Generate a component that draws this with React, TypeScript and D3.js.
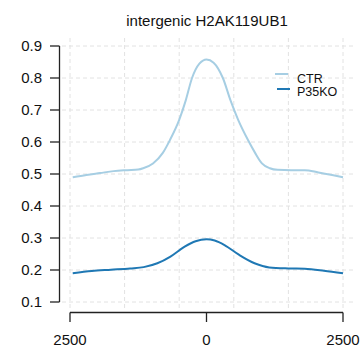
import React from "react";
import * as d3 from "d3";

const title = "intergenic H2AK119UB1";
const seriesNames = ["CTR", "P35KO"];
const seriesColors = ["#a6cee3", "#1f78b4"];

const ctrX = [-2450, -2200, -1950, -1700, -1450, -1250, -1160, -980, -800, -670, -500, -380, -265, -130, 0, 130, 300, 440, 580, 760, 890, 1015, 1160, 1300, 1550, 1800, 2050, 2300, 2500];
const ctrY = [0.490, 0.497, 0.503, 0.509, 0.512, 0.514, 0.518, 0.533, 0.566, 0.606, 0.669, 0.730, 0.800, 0.845, 0.858, 0.848, 0.800, 0.730, 0.669, 0.606, 0.566, 0.533, 0.518, 0.513, 0.512, 0.512, 0.505, 0.497, 0.490];

const koX = [-2450, -2100, -1750, -1400, -1150, -900, -660, -400, -200, 0, 150, 330, 600, 880, 1150, 1500, 1800, 2150, 2500];
const koY = [0.190, 0.197, 0.201, 0.205, 0.209, 0.221, 0.242, 0.273, 0.290, 0.296, 0.292, 0.278, 0.247, 0.221, 0.208, 0.205, 0.204, 0.198, 0.190];

const yTicks = [0.1, 0.2, 0.3, 0.4, 0.5, 0.6, 0.7, 0.8, 0.9];
const xTicks = [-2500, 0, 2500];
const xTickLabels = ["2500", "0", "2500"];
const xGrid = [-2500, -1500, -500, 500, 1500, 2500];

export default function App() {
  const W = 363, H = 350;
  const x = d3.scaleLinear().domain([-2500, 2500]).range([70, 343]);
  const y = d3.scaleLinear().domain([0.1, 0.9]).range([302, 46]);
  const line = d3.line<[number, number]>().x(d => x(d[0])).y(d => y(d[1])).curve(d3.curveMonotoneX);
  const ctr = ctrX.map((v, i) => [v, ctrY[i]] as [number, number]);
  const ko = koX.map((v, i) => [v, koY[i]] as [number, number]);
  const font = "'Liberation Sans', Arial, Helvetica, sans-serif";
  return (
    <svg width={W} height={H} style={{ position: "absolute", left: 0, top: 0 }} fontFamily={font}>
      <rect width={W} height={H} fill="#fff" />
      {yTicks.map(t => (
        <line key={"hg" + t} x1={62} x2={354} y1={y(t)} y2={y(t)} stroke="#e2e2e2" strokeWidth={1} strokeDasharray="4,3" />
      ))}
      {xGrid.map(t => (
        <line key={"vg" + t} x1={x(t)} x2={x(t)} y1={38} y2={308} stroke="#e2e2e2" strokeWidth={1} strokeDasharray="4,3" />
      ))}
      <path d={line(ctr) || ""} fill="none" stroke={seriesColors[0]} strokeWidth={2} />
      <path d={line(ko) || ""} fill="none" stroke={seriesColors[1]} strokeWidth={2} />
      {/* y axis */}
      <line x1={59.5} x2={59.5} y1={y(0.9)} y2={y(0.1)} stroke="#222" strokeWidth={1.3} />
      {yTicks.map(t => (
        <g key={"yt" + t}>
          <line x1={50} x2={59.5} y1={y(t)} y2={y(t)} stroke="#222" strokeWidth={1.3} />
          <text x={42} y={y(t) + 5} textAnchor="end" fontSize={15} fill="#111">{t.toFixed(1)}</text>
        </g>
      ))}
      {/* x axis */}
      <line x1={x(-2500)} x2={x(2500)} y1={312.5} y2={312.5} stroke="#222" strokeWidth={1.3} />
      {xTicks.map((t, i) => (
        <g key={"xt" + t}>
          <line x1={x(t)} x2={x(t)} y1={312.5} y2={322} stroke="#222" strokeWidth={1.3} />
          <text x={x(t)} y={345} textAnchor="middle" fontSize={15} fill="#111">{xTickLabels[i]}</text>
        </g>
      ))}
      <text x={207} y={26} textAnchor="middle" fontSize={15} fill="#111">{title}</text>
      {/* legend */}
      <line x1={275} x2={288} y1={74} y2={74} stroke={seriesColors[0]} strokeWidth={2} />
      <text x={297} y={83} fontSize={12.5} fill="#111">{seriesNames[0]}</text>
      <line x1={277} x2={290} y1={89} y2={89} stroke={seriesColors[1]} strokeWidth={2} />
      <text x={297} y={96} fontSize={12.5} fill="#111">{seriesNames[1]}</text>
    </svg>
  );
}
